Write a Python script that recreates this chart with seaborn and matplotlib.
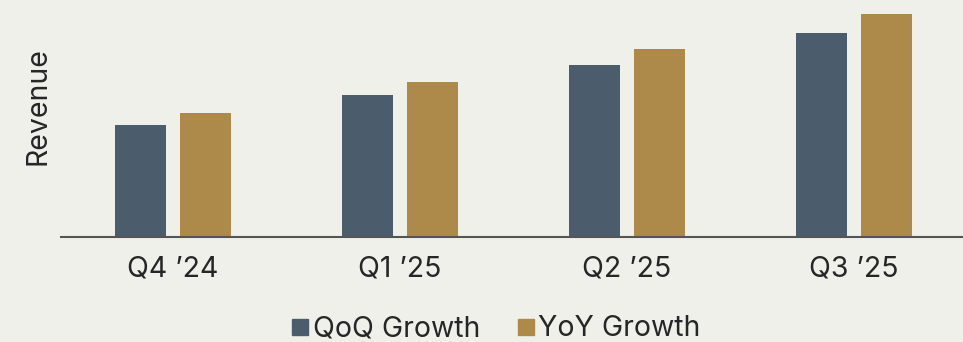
import matplotlib
matplotlib.use("Agg")
import matplotlib.pyplot as plt
from matplotlib.lines import Line2D
import seaborn as sns
import pandas as pd

quarters = ["Q4 \u201924", "Q1 \u201925", "Q2 \u201925", "Q3 \u201925"]
qoq_growth = [112, 142, 172, 204]
yoy_growth = [124, 155, 188, 223]
series_names = ["QoQ Growth", "YoY Growth"]
colors = ["#4b5c6c", "#ae8a4a"]
bg = "#f0f0eb"

df = pd.DataFrame({
    "Quarter": quarters * 2,
    "Series": [series_names[0]] * 4 + [series_names[1]] * 4,
    "Revenue": qoq_growth + yoy_growth,
})

sns.set_theme(style="white")
plt.rcParams["font.family"] = ["Inter", "DejaVu Sans"]

fig = plt.figure(figsize=(9.63, 3.42), dpi=100)
fig.patch.set_facecolor(bg)
ax = fig.add_axes([61 / 963, 1 - 236.5 / 342, 1 - 61 / 963, 236.5 / 342])
ax.set_facecolor(bg)

sns.barplot(data=df, x="Quarter", y="Revenue", hue="Series", order=quarters,
            hue_order=series_names, palette=colors, width=0.572, gap=0.215,
            saturation=1, linewidth=0, legend=False, ax=ax)

ax.set_xlim(-0.493, 3.48)
ax.set_ylim(0, 236.5)
ax.set_yticks([])
ax.set_xlabel("")
ax.set_ylabel("Revenue", fontsize=20.5, color="#262626")
ax.yaxis.set_label_coords(-0.011, 0.55)
ax.tick_params(axis="x", length=0, pad=13.5, labelsize=20.5, labelcolor="#262626")
for side in ["top", "right", "left"]:
    ax.spines[side].set_visible(False)
ax.spines["bottom"].set_color("#555555")
ax.spines["bottom"].set_linewidth(1.5)

handles = [Line2D([], [], marker="s", linestyle="", markersize=12, color=c) for c in colors]
fig.legend(handles, series_names, loc="center", bbox_to_anchor=(496 / 963, 1 - 329 / 342),
           ncol=2, frameon=False, fontsize=20.5, handlelength=0.6, handletextpad=0.15,
           columnspacing=1.3, labelcolor="#262626", borderpad=0)

fig.savefig("out.png", dpi=100, facecolor=bg)
